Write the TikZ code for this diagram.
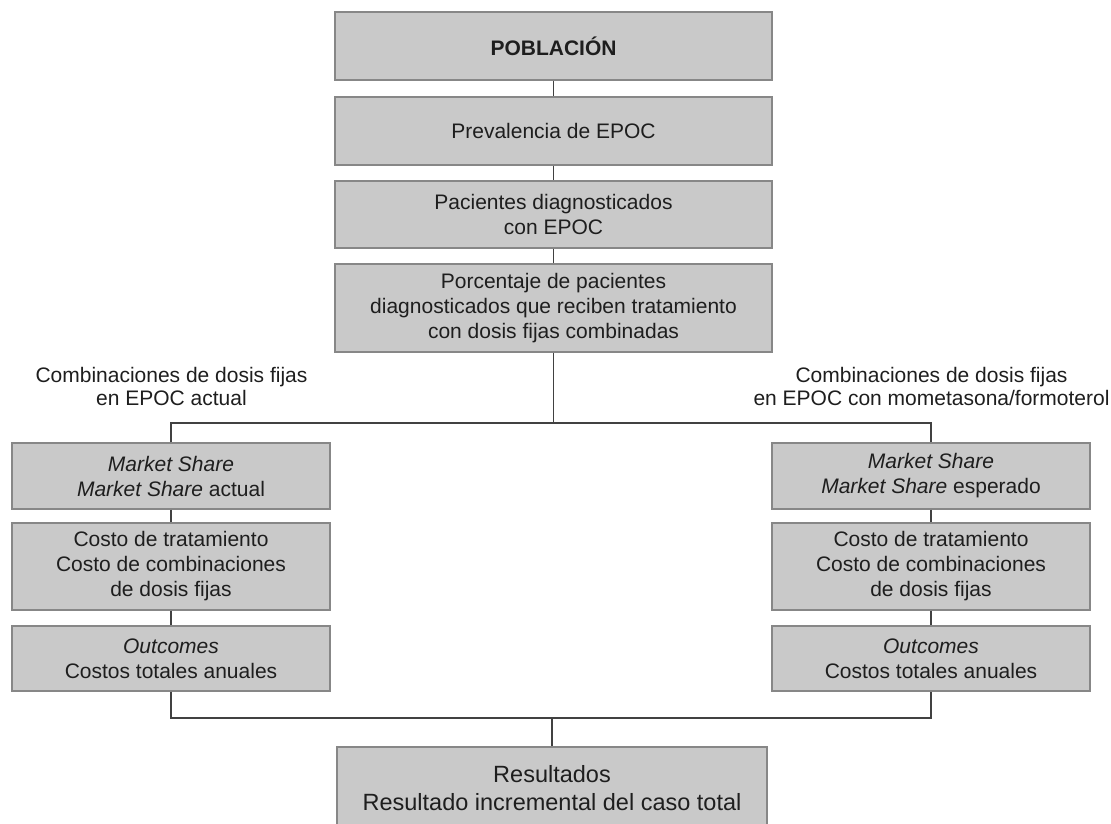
\documentclass[tikz,border=0pt]{standalone}
\usepackage{fontspec}
\setmainfont{Liberation Sans}
\definecolor{boxfill}{RGB}{201,201,201}
\definecolor{boxline}{RGB}{135,135,135}
\definecolor{linec}{RGB}{65,65,65}
\definecolor{textc}{RGB}{30,30,30}
\begin{document}
\begin{tikzpicture}[x=1pt,y=-1pt,
  box/.style={draw=boxline, fill=boxfill, line width=1.3pt, inner sep=0pt, align=center,
    text=textc, font=\fontsize{21}{25}\selectfont},
  cbox/.style={box, minimum width=437pt},
  sbox/.style={box, minimum width=318pt},
  conn/.style={draw=linec, line width=1.7pt},
  lbl/.style={align=center, text=textc, inner sep=0pt, font=\fontsize{21}{23}\selectfont}]
\useasboundingbox (0,0) rectangle (1111,823);

% central chain
\node[cbox, minimum height=68pt, font=\bfseries\fontsize{21}{25}\selectfont] (pob) at (553.5,46) {POBLACIÓN};
\node[cbox, minimum height=68pt] (prev) at (553.5,131) {Prevalencia de EPOC};
\node[cbox, minimum height=67pt] (pac) at (553.5,214.5) {Pacientes diagnosticados\\con EPOC};
\node[cbox, minimum height=88pt] (porc) at (553.5,308) {Porcentaje de pacientes\\diagnosticados que reciben tratamiento\\con dosis fijas combinadas};

% branch labels
\node[lbl] (llbl) at (171.5,386) {Combinaciones de dosis fijas\\en EPOC actual};
\node[lbl] (rlbl) at (931.5,386) {Combinaciones de dosis fijas\\en EPOC con mometasona/formoterol};

% left column
\node[sbox, minimum height=66pt] (lms) at (171,476) {\textit{Market Share}\\\textit{Market Share} actual};
\node[sbox, minimum height=87pt] (lcost) at (171,566.5) {Costo de tratamiento\\Costo de combinaciones\\de dosis fijas};
\node[sbox, minimum height=65pt] (lout) at (171,658.5) {\textit{Outcomes}\\Costos totales anuales};

% right column
\node[sbox, minimum height=66pt] (rms) at (931,476) {\textit{Market Share}\\\textit{Market Share} esperado};
\node[sbox, minimum height=87pt] (rcost) at (931,566.5) {Costo de tratamiento\\Costo de combinaciones\\de dosis fijas};
\node[sbox, minimum height=65pt] (rout) at (931,658.5) {\textit{Outcomes}\\Costos totales anuales};

% result
\node[box, minimum width=430pt, minimum height=82pt, font=\fontsize{23.5}{27.5}\selectfont] (res) at (552,788) {Resultados\\Resultado incremental del caso total};

\coordinate (split) at (553.5,423);
\coordinate (join) at (552,718);

% connectors
\draw[conn] (pob.south) -- (prev.north);
\draw[conn] (prev.south) -- (pac.north);
\draw[conn] (pac.south) -- (porc.north);
\draw[conn] (porc.south) -- (split);
\draw[conn] (lms.north) |- (split) -| (rms.north);
\draw[conn] (lms.south) -- (lcost.north);
\draw[conn] (lcost.south) -- (lout.north);
\draw[conn] (rms.south) -- (rcost.north);
\draw[conn] (rcost.south) -- (rout.north);
\draw[conn] (lout.south) |- (join) -| (rout.south);
\draw[conn] (join) -- (res.north);
\end{tikzpicture}
\end{document}
